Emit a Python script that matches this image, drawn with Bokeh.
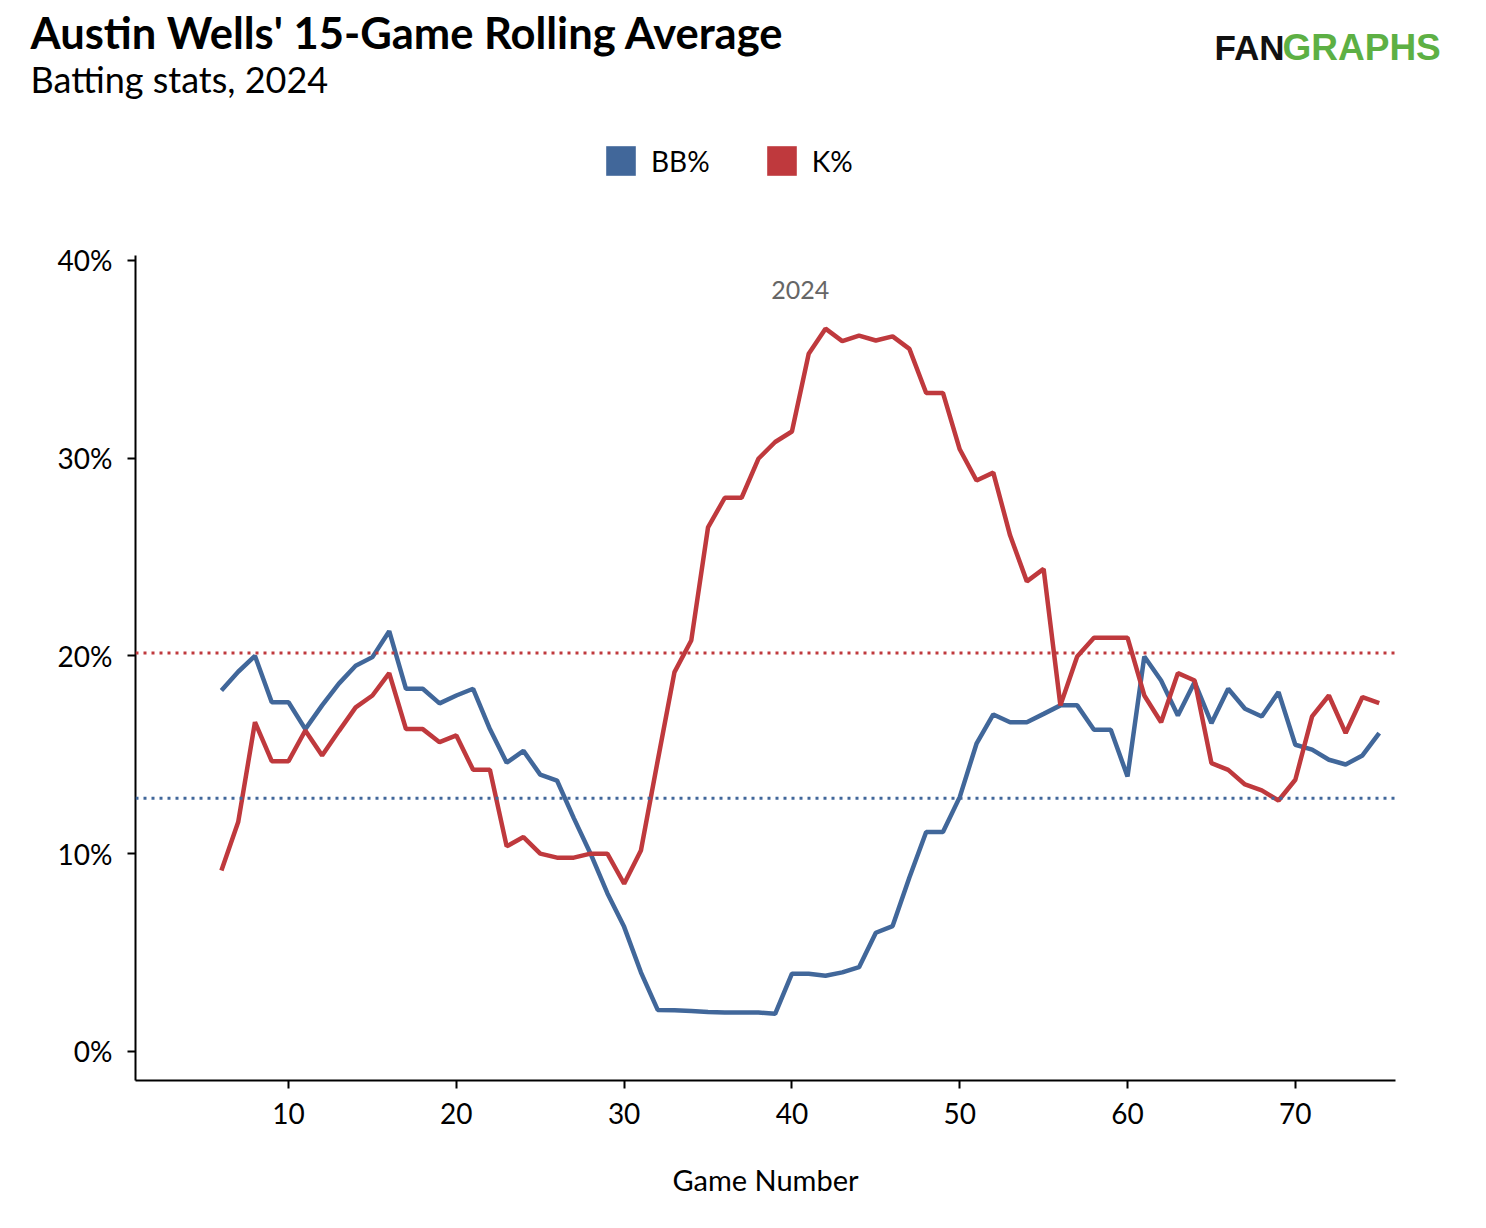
from bokeh.plotting import figure
from bokeh.layouts import column
from bokeh.models import (ColumnDataSource, Span, Label, Legend, LegendItem,
                          FixedTicker, PrintfTickFormatter, Range1d)
from bokeh.embed import file_html
from bokeh.resources import INLINE

# data: 15-game rolling rates (percent), games 6..75
games = list(range(6, 76))
bb_pct = [18.25, 19.2, 20.0, 17.66, 17.66, 16.3, 17.5, 18.6, 19.5, 19.94,
          21.25, 18.34, 18.34, 17.6, 18.0, 18.34, 16.3, 14.6, 15.2, 14.0,
          13.7, 11.8, 10.0, 8.0, 6.3, 4.0, 2.1, 2.08, 2.05, 2.0,
          1.97, 1.97, 1.97, 1.9, 3.93, 3.93, 3.83, 4.0, 4.26, 6.0,
          6.34, 8.8, 11.1, 11.1, 12.86, 15.56, 17.04, 16.65, 16.65, 17.07,
          17.5, 17.5, 16.27, 16.27, 13.9, 19.97, 18.76, 16.99, 18.68, 16.6,
          18.34, 17.33, 16.94, 18.17, 15.51, 15.26, 14.75, 14.51, 14.97, 16.1]
k_pct = [9.15, 11.6, 16.65, 14.68, 14.68, 16.23, 14.97, 16.2, 17.4, 18.0,
         19.13, 16.3, 16.3, 15.64, 15.98, 14.24, 14.24, 10.37, 10.84, 10.0,
         9.8, 9.8, 10.0, 10.0, 8.48, 10.16, 14.7, 19.18, 20.78, 26.5,
         28.0, 28.0, 29.97, 30.82, 31.35, 35.28, 36.55, 35.92, 36.2, 35.95,
         36.16, 35.53, 33.3, 33.3, 30.45, 28.87, 29.27, 26.1, 23.77, 24.4,
         17.5, 19.97, 20.92, 20.92, 20.92, 18.0, 16.65, 19.13, 18.76, 14.58,
         14.24, 13.5, 13.2, 12.69, 13.74, 16.94, 18.0, 16.1, 17.92, 17.61]
bb_avg = 12.8
k_avg = 20.15
x_ticks = [10, 20, 30, 40, 50, 60, 70]
y_ticks = [0, 10, 20, 30, 40]

BLUE = "#41679A"
RED = "#BF393D"
FONT = "Lato"
W = 1470
HEAD_H = 235

src = ColumnDataSource(data=dict(game=games, bb=bb_pct, k=k_pct))

# ---- header: title, subtitle, logo, legend (pixel coordinates) ----
head = figure(width=W, height=HEAD_H, output_backend="svg", toolbar_location=None,
              x_range=Range1d(0, W), y_range=Range1d(HEAD_H, 0),
              x_axis_type=None, y_axis_type=None,
              min_border=0, outline_line_color=None, frame_align=False)
head.grid.visible = False

head.add_layout(Label(x=30, y=31, text="Austin Wells' 15-Game Rolling Average",
                      text_font=FONT, text_font_size="43.5px", text_font_style="bold",
                      text_color="black", text_baseline="alphabetic"))
head.add_layout(Label(x=30, y=78, text="Batting stats, 2024",
                      text_font=FONT, text_font_size="36px",
                      text_color="black", text_baseline="alphabetic"))
head.add_layout(Label(x=1214, y=47, text="FAN", text_font="Liberation Sans",
                      text_font_size="35px", text_font_style="bold",
                      text_color="#111111", text_baseline="alphabetic"))
head.add_layout(Label(x=1282, y=47, text="GRAPHS", text_font="Liberation Sans",
                      text_font_size="37px", text_font_style="bold",
                      text_color="#5DB044", text_baseline="alphabetic"))

# zero-size rects: only used to give the legend square swatches
sw_bb = head.rect("game", "bb", width=0, height=0, source=src,
                  fill_color=BLUE, line_color=None)
sw_k = head.rect("game", "k", width=0, height=0, source=src,
                 fill_color=RED, line_color=None)
legend = Legend(items=[LegendItem(label="BB%", renderers=[sw_bb]),
                       LegendItem(label="K%", renderers=[sw_k])],
                orientation="horizontal", location=(602, 56),
                glyph_width=37, glyph_height=37, label_standoff=12, spacing=53,
                padding=0, margin=0, border_line_color=None,
                background_fill_alpha=0,
                label_text_font=FONT, label_text_font_size="28px",
                label_text_color="black")
head.add_layout(legend)

# ---- main chart ----
p = figure(width=W, height=1210 - HEAD_H, output_backend="svg", toolbar_location=None,
           x_range=(0.88, 75.97), y_range=(-1.47, 40.25),
           min_border_left=135, min_border_right=75,
           min_border_top=20, min_border_bottom=130, frame_align=False)
p.title = None
p.grid.visible = False
p.outline_line_color = None

# average reference lines
p.add_layout(Span(location=k_avg, dimension="width", line_color=RED,
                  line_width=3, line_dash="3 5"))
p.add_layout(Span(location=bb_avg, dimension="width", line_color=BLUE,
                  line_width=3, line_dash="3 5"))

p.line("game", "bb", source=src, line_color=BLUE, line_width=4.5)
p.line("game", "k", source=src, line_color=RED, line_width=4.5)

for ax in (p.xaxis[0], p.yaxis[0]):
    ax.axis_line_color = "black"
    ax.axis_line_width = 2
    ax.major_tick_line_color = "black"
    ax.major_tick_line_width = 2
    ax.major_tick_out = 8
    ax.major_tick_in = 0
    ax.minor_tick_line_color = None
    ax.major_label_text_font = FONT
    ax.major_label_text_font_size = "28px"
    ax.major_label_text_color = "black"

p.xaxis.ticker = FixedTicker(ticks=x_ticks)
p.yaxis.ticker = FixedTicker(ticks=y_ticks)
p.yaxis.formatter = PrintfTickFormatter(format="%d%%")
p.yaxis.major_label_standoff = 15
p.xaxis.major_label_standoff = 14
p.xaxis.axis_label = "Game Number"
p.xaxis.axis_label_text_font = FONT
p.xaxis.axis_label_text_font_size = "29px"
p.xaxis.axis_label_text_font_style = "normal"
p.xaxis.axis_label_text_color = "black"
p.xaxis.axis_label_standoff = 35

# facet label
p.add_layout(Label(x=40.5, y=38.5, text="2024", text_align="center",
                   text_baseline="middle", text_font=FONT,
                   text_font_size="25px", text_color="#666666"))

layout = column(head, p, spacing=0)
open("out.html", "w").write(file_html(layout, INLINE))
